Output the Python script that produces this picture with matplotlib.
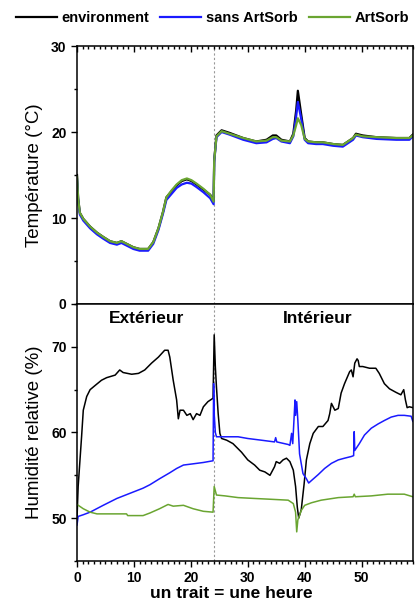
import matplotlib
matplotlib.use('Agg')
import matplotlib.pyplot as plt
from matplotlib.ticker import MultipleLocator

plt.rcParams['font.family'] = ['Liberation Sans', 'DejaVu Sans']

# temperature, same time grid for the three sensors (hours)
tx = [0, 0.2, 0.5, 1.1, 2.3, 3.5, 4.6, 5.8, 7.0, 7.8,
      8.7, 9.9, 11.0, 12.5, 13.4, 14.3, 15.1, 15.7, 16.6, 17.5,
      18.4, 19.3, 20.1, 21.0, 22.2, 23.4, 24.0, 24.1, 24.5, 25.4,
      26.8, 29.2, 31.5, 33.3, 34.4, 35.0, 35.9, 37.4, 38.0, 38.5,
      38.8, 39.4, 40.0, 40.6, 42.0, 43.2, 45.0, 46.7, 48.5, 49.0,
      50.2, 52.6, 56.1, 58.4, 59.0]
t_env = [15.0, 12.3, 10.6, 9.9, 9.0, 8.3, 7.8, 7.3, 7.1, 7.3,
         7.0, 6.6, 6.4, 6.4, 7.2, 8.8, 10.7, 12.4, 13.1, 13.8,
         14.3, 14.5, 14.3, 13.9, 13.3, 12.7, 12.0, 16.7, 19.6, 20.2,
         19.9, 19.3, 18.9, 19.1, 19.6, 19.6, 19.1, 18.9, 19.8, 22.5,
         24.8, 22.0, 19.3, 18.9, 18.8, 18.8, 18.6, 18.5, 19.3, 19.8,
         19.6, 19.4, 19.3, 19.3, 19.7]
t_sans = [14.5, 12.0, 10.4, 9.7, 8.8, 8.1, 7.6, 7.1, 6.9, 7.1,
          6.8, 6.4, 6.2, 6.2, 7.0, 8.6, 10.5, 12.1, 12.8, 13.5,
          13.9, 14.1, 14.0, 13.6, 13.0, 12.3, 11.6, 16.5, 19.4, 20.0,
          19.7, 19.1, 18.7, 18.8, 19.2, 19.3, 18.9, 18.7, 19.5, 21.8,
          23.5, 21.5, 19.1, 18.7, 18.6, 18.6, 18.4, 18.3, 19.1, 19.6,
          19.4, 19.2, 19.1, 19.1, 19.5]
t_art = [14.8, 12.2, 10.6, 9.9, 9.0, 8.3, 7.8, 7.3, 7.1, 7.3,
         7.0, 6.6, 6.4, 6.4, 7.2, 8.8, 10.7, 12.4, 13.2, 13.9,
         14.4, 14.6, 14.4, 14.0, 13.4, 12.7, 11.9, 16.6, 19.5, 20.1,
         19.8, 19.3, 18.9, 19.0, 19.4, 19.4, 19.0, 18.9, 19.6, 20.8,
         21.6, 20.8, 19.2, 18.9, 18.8, 18.8, 18.6, 18.5, 19.3, 19.7,
         19.5, 19.4, 19.3, 19.3, 19.6]

# relative humidity
hx_env = [0, 0.2, 0.8, 1.1, 1.7, 2.3, 3.2, 4.3, 5.2, 6.7,
          7.5, 8.1, 9.6, 10.8, 11.9, 13.1, 14.3, 15.4, 16.0, 16.3,
          16.9, 17.5, 17.8, 18.1, 18.7, 19.3, 19.9, 20.4, 21.0, 21.6,
          22.2, 23.0, 23.9, 24.1, 24.3, 24.5, 24.8, 25.1, 25.4, 26.3,
          27.4, 28.9, 30.0, 31.2, 32.1, 33.0, 33.9, 34.7, 35.0, 35.6,
          36.2, 36.8, 37.4, 38.0, 38.4, 38.7, 38.95, 39.4, 39.9, 40.3,
          40.9, 41.5, 42.4, 43.2, 44.1, 44.4, 44.7, 45.3, 45.9, 46.4,
          47.0, 47.9, 48.2, 48.5, 48.8, 49.2, 49.4, 49.6, 50.2, 51.4,
          52.5, 53.1, 54.0, 54.9, 56.0, 56.9, 57.4, 57.7, 58.0, 58.4,
          59.0]
h_env = [50.0, 53.7, 59.5, 62.6, 64.2, 65.0, 65.5, 66.1, 66.4, 66.7,
         67.3, 67.0, 66.8, 66.9, 67.3, 68.1, 68.8, 69.6, 69.6, 68.8,
         66.1, 63.8, 61.6, 62.6, 62.6, 62.0, 62.2, 61.5, 62.2, 62.0,
         63.0, 63.6, 64.0, 71.4, 67.7, 65.3, 62.2, 59.9, 59.3, 59.1,
         58.7, 57.7, 56.8, 56.2, 55.6, 55.4, 55.0, 56.0, 56.6, 56.4,
         56.8, 57.0, 56.6, 55.6, 53.7, 51.3, 50.0, 51.0, 54.0, 56.8,
         58.7, 59.9, 60.7, 60.7, 61.4, 62.2, 63.4, 62.6, 62.8, 64.6,
         65.7, 67.1, 67.3, 66.5, 68.1, 68.6, 68.4, 67.7, 67.7, 67.5,
         67.5, 66.9, 65.7, 65.1, 64.7, 64.4, 65.0, 63.8, 62.9, 63.0,
         62.9]

hx_sans = [0, 0.2, 1.1, 2.3, 4.6, 7.0, 9.3, 11.6, 12.8, 14.5,
           16.3, 17.5, 18.7, 19.9, 22.2, 23.9, 24.0, 24.1, 24.3, 24.5,
           26.0, 28.3, 30.0, 32.4, 34.7, 34.9, 35.1, 37.1, 37.4, 37.7,
           37.9, 38.3, 38.4, 38.6, 38.8, 39.1, 39.7, 40.3, 40.7, 41.2,
           42.4, 43.5, 44.7, 45.9, 47.0, 48.2, 48.6, 48.7, 48.8, 49.6,
           50.5, 51.7, 52.9, 54.0, 55.2, 56.4, 57.5, 58.7, 59.0]
h_sans = [49.2, 50.2, 50.4, 50.7, 51.5, 52.3, 52.9, 53.5, 53.9, 54.6,
          55.3, 55.8, 56.2, 56.3, 56.5, 56.7, 65.7, 62.2, 60.0, 59.5,
          59.5, 59.5, 59.3, 59.1, 58.9, 59.4, 58.9, 58.6, 58.5, 59.9,
          58.7, 63.8, 62.0, 63.6, 61.4, 57.5, 55.2, 54.6, 54.1, 54.4,
          55.1, 55.8, 56.4, 56.8, 57.0, 57.2, 57.3, 60.1, 57.9, 58.7,
          59.7, 60.5, 61.0, 61.4, 61.8, 62.0, 62.0, 61.9, 61.3]

hx_art = [0, 1.1, 2.3, 3.5, 5.8, 8.7, 8.9, 11.6, 12.8, 14.5,
          16.0, 16.9, 18.7, 20.4, 22.2, 23.9, 24.1, 24.5, 26.0, 28.3,
          31.2, 34.2, 37.1, 38.0, 38.4, 38.6, 38.8, 39.4, 40.0, 41.2,
          42.9, 45.9, 48.5, 48.7, 48.9, 51.7, 54.6, 57.5, 59.0]
h_art = [51.6, 51.1, 50.7, 50.5, 50.5, 50.5, 50.3, 50.3, 50.6, 51.1,
         51.6, 51.4, 51.5, 51.1, 50.8, 50.7, 53.7, 52.7, 52.6, 52.4,
         52.3, 52.2, 52.1, 51.7, 50.7, 48.4, 49.8, 50.9, 51.5, 51.8,
         52.1, 52.4, 52.5, 52.8, 52.5, 52.6, 52.8, 52.8, 52.5]

labels = ['environment', 'sans ArtSorb', 'ArtSorb']
colors = ['black', '#1a1aff', '#6aa531']
split_hour = 24

fig = plt.figure(figsize=(4.17, 6.04), dpi=100)
ax1 = fig.add_axes([0.1847, 0.4967, 0.8053, 0.4271])
ax2 = fig.add_axes([0.1847, 0.0712, 0.8053, 0.4255])

for x, y, c, lab in zip([tx, tx, tx], [t_env, t_sans, t_art], colors, labels):
    ax1.plot(x, y, color=c, lw=1.6, label=lab)
for x, y, c in zip([hx_env, hx_sans, hx_art], [h_env, h_sans, h_art], colors):
    ax2.plot(x, y, color=c, lw=1.1)

for ax in (ax1, ax2):
    ax.set_xlim(0, 59)
    ax.axvline(split_hour, color='#999999', lw=0.8, ls=(0, (2, 2)), zorder=0)
    for s in ax.spines.values():
        s.set_linewidth(1.1)
    ax.xaxis.set_major_locator(MultipleLocator(10))
    ax.xaxis.set_minor_locator(MultipleLocator(1))
    ax.tick_params(axis='y', which='major', direction='out', length=4, width=1,
                   labelsize=10)
    ax.tick_params(axis='y', which='minor', direction='out', length=2.5, width=1)

ax1.set_ylim(0, 30)
ax1.yaxis.set_major_locator(MultipleLocator(10))
ax1.yaxis.set_minor_locator(MultipleLocator(5))
ax1.tick_params(axis='x', which='both', bottom=False, labelbottom=False,
                top=True, direction='in', width=1)
ax1.tick_params(axis='x', which='major', length=4)
ax1.tick_params(axis='x', which='minor', length=2)
ax1.set_ylabel('Température (°C)', fontsize=13.5, labelpad=6)

ax2.set_ylim(45, 75)
ax2.yaxis.set_minor_locator(MultipleLocator(5))
ax2.set_yticks([50, 60, 70])
ax2.tick_params(axis='x', which='both', direction='out', width=1, labelsize=10)
ax2.tick_params(axis='x', which='major', length=4)
ax2.tick_params(axis='x', which='minor', length=2)
ax2.set_ylabel('Humidité relative (%)', fontsize=13.5, labelpad=6)
for lab in ax1.get_yticklabels() + ax2.get_yticklabels() + ax2.get_xticklabels():
    lab.set_fontweight('bold')

ax2.text(12.3, 73.3, 'Extérieur', ha='center', va='center', fontsize=12.5,
         fontweight='bold')
ax2.text(42.3, 73.3, 'Intérieur', ha='center', va='center', fontsize=12.5,
         fontweight='bold')

fig.text(231 / 417, 1 - 594 / 604, 'un trait = une heure', ha='center',
         va='center', fontsize=12.5, fontweight='bold')

fig.legend(loc='center', bbox_to_anchor=(0.51, 1 - 18 / 604), ncol=3,
           frameon=False, prop={'weight': 'bold', 'size': 10.5},
           handlelength=2.8, handletextpad=0.35, columnspacing=0.75,
           borderaxespad=0, borderpad=0)

fig.savefig('out.png', dpi=100)
